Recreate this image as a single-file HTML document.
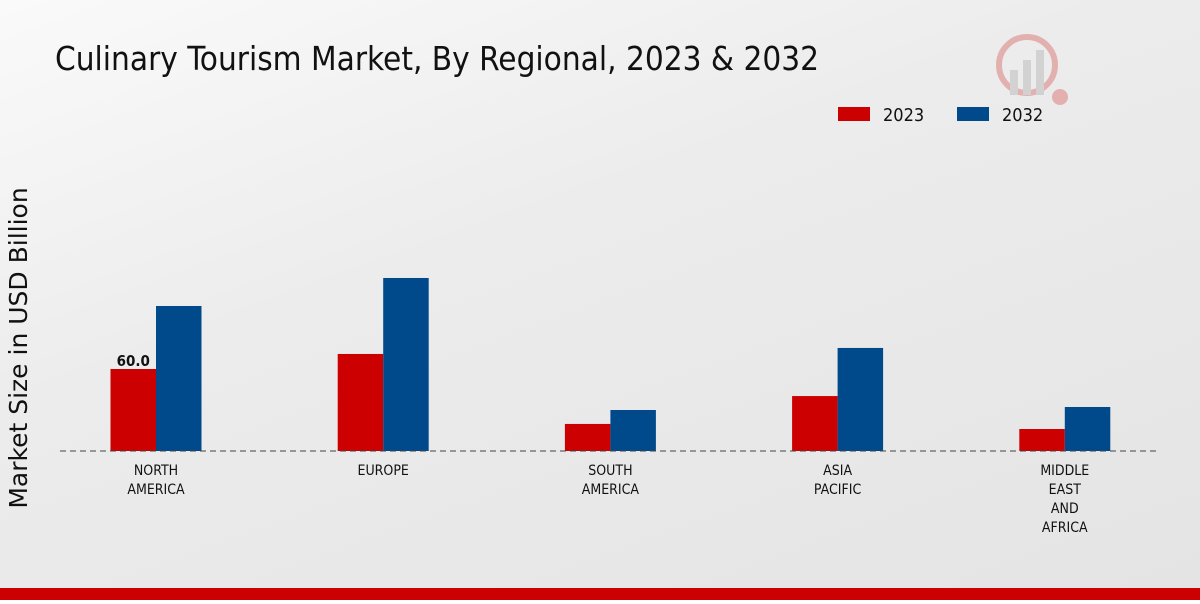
<!DOCTYPE html>
<html><head><meta charset="utf-8">
<style>
body{margin:0;width:1200px;height:600px;overflow:hidden;}
#c{position:relative;width:1200px;height:600px;background:linear-gradient(160deg,#fafafa 0%,#ececec 40%,#e4e4e4 100%);font-family:"DejaVu Sans Condensed","DejaVu Sans","Liberation Sans",sans-serif;}
</style></head><body>
<div id="c">
<svg id="s" width="1200" height="600">
<text x="55" y="70" font-size="33" fill="#111">Culinary Tourism Market, By Regional, 2023 &amp; 2032</text>
<g opacity="0.25">
<circle cx="1027" cy="65" r="28" fill="none" stroke="#c00" stroke-width="6"/>
<rect x="1010" y="70" width="8" height="25" fill="#888"/><rect x="1023" y="60" width="8" height="35" fill="#888"/><rect x="1036" y="50" width="8" height="45" fill="#888"/>
<circle cx="1060" cy="97" r="8" fill="#c00"/>
</g>
<g>
<rect x="838" y="107" width="32" height="14" fill="#cc0000"/>
<text x="883" y="121" font-size="18" fill="#111">2023</text>
<rect x="957" y="107" width="32" height="14" fill="#004a8c"/>
<text x="1002" y="121" font-size="18" fill="#111">2032</text>
</g>
<text transform="translate(27,348) rotate(-90)" text-anchor="middle" font-size="25" fill="#111" font-family="DejaVu Sans, sans-serif">Market Size in USD Billion</text>
<g id="bars"></g>
<line x1="60" y1="451" x2="1160" y2="451" stroke="#444" stroke-width="1" stroke-dasharray="6,4"/>
<g id="labels"></g>
<rect x="0" y="588" width="1200" height="12" fill="#cc0000"/>
</svg>
</div>
<script>
const categories=[["NORTH","AMERICA"],["EUROPE"],["SOUTH","AMERICA"],["ASIA","PACIFIC"],["MIDDLE","EAST","AND","AFRICA"]];
const values2023=[60.0,71.0,19.8,40.2,16.1];
const values2032=[106.1,126.6,30.0,75.4,32.2];
const valueLabels=["60.0",null,null,null,null];
const NS="http://www.w3.org/2000/svg";
const base=451,scale=82/60,x0=156,step=227.2,bw=45.5;
const y=v=>base-v*scale;
const bars=document.getElementById('bars'),labels=document.getElementById('labels');
function mk(t,a){const e=document.createElementNS(NS,t);for(const k in a)e.setAttribute(k,a[k]);return e;}
categories.forEach((cat,i)=>{
  const cx=x0+i*step;
  const r=mk('rect',{x:cx-bw,y:y(values2023[i]),width:bw,height:values2023[i]*scale,fill:'#cc0000'});
  
  
  bars.appendChild(r);
  const b=mk('rect',{x:cx,y:y(values2032[i]),width:bw,height:values2032[i]*scale,fill:'#004a8c'});
  
  
  bars.appendChild(b);
  if(valueLabels[i]){
    const t=mk('text',{x:cx-bw/2,y:y(values2023[i])-3,'text-anchor':'middle','font-size':15,'font-weight':'bold',fill:'#111'});
    t.textContent=valueLabels[i];
    
    
    bars.appendChild(t);
  }
  cat.forEach((line,j)=>{
    const t=mk('text',{x:cx,y:475+j*19,'text-anchor':'middle','font-size':14,fill:'#111'});
    t.textContent=line;
    
    
    labels.appendChild(t);
  });
});
</script>
</body></html>
